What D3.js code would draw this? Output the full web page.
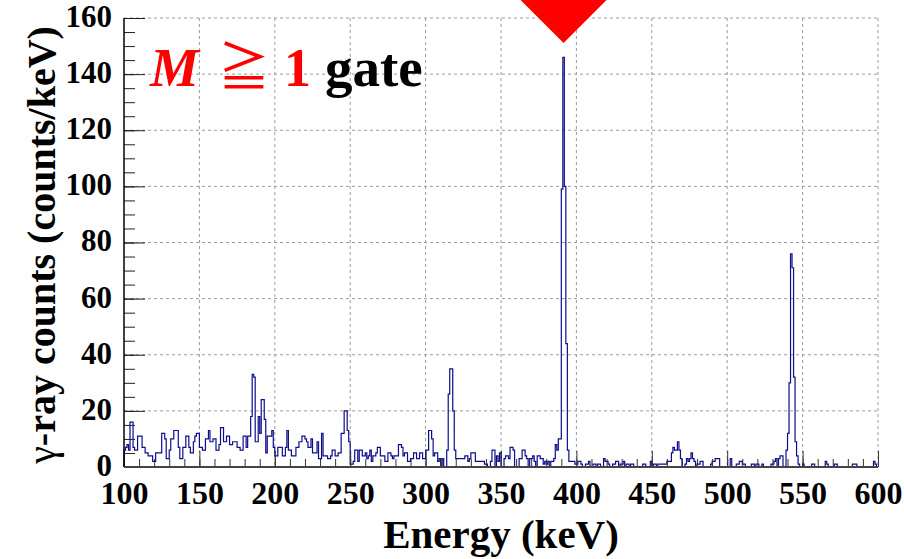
<!DOCTYPE html>
<html>
<head>
<meta charset="utf-8">
<script src="https://cdn.jsdelivr.net/npm/d3@7"></script>
<style>
  html, body { margin: 0; padding: 0; background: #fff; }
  svg { display: block; }
</style>
</head>
<body>
<svg id="chart" width="904" height="559"></svg>
<script>
// ---------- data ----------
const energyStart = 100;   // keV, lower edge of first bin
const binWidth = 1;        // keV
const counts = [
  6,7,8,6,16,16,7,6,6,11,
  11,11,7,7,5,5,4,4,4,2,
  2,5,5,5,5,12,12,10,3,3,
  6,10,10,13,13,13,7,3,3,7,
  7,11,11,7,5,5,9,11,12,12,
  7,7,6,6,10,10,13,9,9,10,
  10,6,6,8,14,14,9,9,11,11,
  8,8,9,9,9,7,7,6,6,11,
  11,7,11,11,18,33,32,9,9,18,
  12,24,24,17,5,11,11,11,13,7,
  4,4,7,7,7,4,4,7,13,6,
  6,4,4,4,7,7,9,9,11,11,
  10,9,7,7,10,5,5,5,9,3,
  3,12,4,4,4,3,3,4,6,6,
  4,4,5,5,12,12,20,20,13,9,
  1,1,2,6,6,2,6,6,4,4,
  5,3,4,6,2,4,4,5,7,7,
  4,4,4,2,2,5,5,4,3,4,
  4,4,8,8,7,4,5,5,2,2,
  3,3,5,5,3,3,5,5,3,3,
  6,6,13,13,10,4,5,5,2,3,
  0,3,0,0,6,26,35,35,20,6,
  3,3,3,3,3,3,4,4,2,3,
  5,5,5,2,2,2,2,2,2,1,
  1,0,0,2,6,6,0,4,2,5,
  0,0,3,4,4,3,7,7,6,0,
  0,0,3,3,6,6,4,3,0,3,
  3,4,2,0,4,4,3,3,1,2,
  1,2,0,2,2,3,8,6,10,10,
  99,146,100,44,6,2,2,2,2,1,
  1,2,2,1,0,0,1,1,2,0,
  0,1,1,0,1,1,0,0,3,2,
  2,1,0,0,1,1,2,2,0,1,
  1,2,0,1,1,0,1,1,0,0,
  0,0,0,0,1,1,0,0,0,2,
  0,1,1,0,1,1,1,1,1,1,
  2,2,2,5,7,6,6,9,6,3,
  0,0,1,3,2,3,5,3,2,0,
  1,1,2,2,0,0,0,0,0,1,
  2,2,3,3,3,0,0,0,0,0,
  0,0,3,0,0,0,1,1,2,2,
  1,1,0,0,0,0,1,1,0,1,
  1,0,0,1,0,0,0,0,0,1,
  1,2,3,0,3,4,4,0,0,6,
  12,30,76,71,32,9,4,1,0,0,
  1,0,0,0,0,0,1,1,0,0,
  0,0,0,0,0,2,1,0,0,0,
  0,1,1,0,0,0,0,0,0,0,
  0,0,0,1,1,1,0,0,0,0,
  0,0,0,0,0,0,0,2,1,0
];
const energyTicks = [100,150,200,250,300,350,400,450,500,550,600];
const energyMinorTicks = d3.range(100, 601, 10);
const countTicks = [0,20,40,60,80,100,120,140,160];
const countMinorTicks = d3.range(0, 161, 5);
const peakEnergy = 391.5;      // marked by the red arrow
const xTitle = "Energy (keV)";
const yTitleGreek = "γ";
const yTitleRest = "-ray counts (counts/keV)";

// ---------- layout ----------
const svg = d3.select("#chart");
const L = 124, R = 878, T = 18, B = 467;
const x = d3.scaleLinear().domain([100, 600]).range([L, R]);
const y = d3.scaleLinear().domain([0, 160]).range([B, T]);
const serif = "'Liberation Serif', 'Times New Roman', serif";

svg.append("rect").attr("width", 904).attr("height", 559).attr("fill", "#fff");

// grid
const grid = svg.append("g").attr("stroke", "#9a9a9a").attr("stroke-width", 1)
  .attr("stroke-dasharray", "3,3").attr("fill", "none");
energyTicks.filter(d => d > 100).forEach(d => {
  grid.append("line").attr("x1", x(d)).attr("x2", x(d)).attr("y1", T).attr("y2", B);
});
countTicks.filter(d => d > 0).forEach(d => {
  grid.append("line").attr("x1", L).attr("x2", R).attr("y1", y(d)).attr("y2", y(d));
});

// histogram
const pts = [[x(energyStart), y(0)]];
counts.forEach((c, i) => {
  const e0 = energyStart + i * binWidth, e1 = e0 + binWidth;
  pts.push([x(e0), y(c)]);
  pts.push([x(e1), y(c)]);
});
pts.push([x(energyStart + counts.length * binWidth), y(0)]);
svg.append("path")
  .attr("d", d3.line()(pts))
  .attr("fill", "none")
  .attr("stroke", "#0d0d8c")
  .attr("stroke-width", 1.2)
  .attr("stroke-linejoin", "miter");

// x axis
const xMinor = svg.append("g").attr("transform", `translate(0,${B})`)
  .call(d3.axisBottom(x).tickValues(energyMinorTicks).tickSize(-8).tickFormat(""));
const xMajor = svg.append("g").attr("transform", `translate(0,${B})`)
  .call(d3.axisBottom(x).tickValues(energyTicks).tickSize(-16).tickPadding(14).tickFormat(d3.format("d")));
[xMinor, xMajor].forEach(g => {
  g.select(".domain").remove();
  g.selectAll(".tick line").attr("stroke", "#333").attr("stroke-width", 1);
});
xMajor.selectAll("text")
  .attr("font-family", serif).attr("font-weight", "bold").attr("font-size", 32)
  .attr("fill", "#000");

// y axis
const yMinor = svg.append("g").attr("transform", `translate(${L},0)`)
  .call(d3.axisLeft(y).tickValues(countMinorTicks).tickSize(-11).tickFormat(""));
const yMajor = svg.append("g").attr("transform", `translate(${L},0)`)
  .call(d3.axisLeft(y).tickValues(countTicks).tickSize(-21).tickPadding(12).tickFormat(d3.format("d")));
[yMinor, yMajor].forEach(g => {
  g.select(".domain").remove();
  g.selectAll(".tick line").attr("stroke", "#222").attr("stroke-width", 1);
});
yMajor.selectAll("text")
  .attr("font-family", serif).attr("font-weight", "bold").attr("font-size", 31)
  .attr("dy", "0.27em")
  .attr("fill", "#000");

// axis lines
svg.append("line").attr("x1", L).attr("x2", L).attr("y1", T).attr("y2", B)
  .attr("stroke", "#000").attr("stroke-width", 1.5);
svg.append("line").attr("x1", L).attr("x2", R).attr("y1", B).attr("y2", B)
  .attr("stroke", "#444").attr("stroke-width", 2);

// axis titles
svg.append("text")
  .attr("x", (L + R) / 2).attr("y", 548)
  .attr("text-anchor", "middle")
  .attr("font-family", serif).attr("font-weight", "bold").attr("font-size", 41)
  .text(xTitle);

const yt = svg.append("text")
  .attr("transform", "translate(55,245) rotate(-90)")
  .attr("text-anchor", "middle")
  .attr("font-family", serif).attr("font-weight", "bold").attr("font-size", 40);
yt.append("tspan").attr("font-weight", "normal").text(yTitleGreek);
yt.append("tspan").text(yTitleRest);

// gate label
const lab = svg.append("g");
lab.append("text").attr("x", 150).attr("y", 86)
  .attr("font-family", serif).attr("font-weight", "bold").attr("font-style", "italic")
  .attr("font-size", 55).attr("fill", "#ff0000").text("M");
lab.append("text").attr("x", 218).attr("y", 86)
  .attr("font-family", "'Noto Sans CJK JP', 'DejaVu Sans', sans-serif")
  .attr("font-size", 52).attr("fill", "#ff0000").text("≧");
lab.append("text").attr("x", 284).attr("y", 86)
  .attr("font-family", serif).attr("font-weight", "bold")
  .attr("font-size", 54).attr("fill", "#ff0000").text("1");
lab.append("text").attr("x", 325).attr("y", 86)
  .attr("font-family", serif).attr("font-weight", "bold")
  .attr("font-size", 55).attr("fill", "#000").text("gate");

// red arrow marking the peak
const ax = x(peakEnergy);
svg.append("path")
  .attr("d", `M${ax - 47},-4 L${ax + 47},-4 L${ax},43 Z`)
  .attr("fill", "#ff0000");
</script>
</body>
</html>
